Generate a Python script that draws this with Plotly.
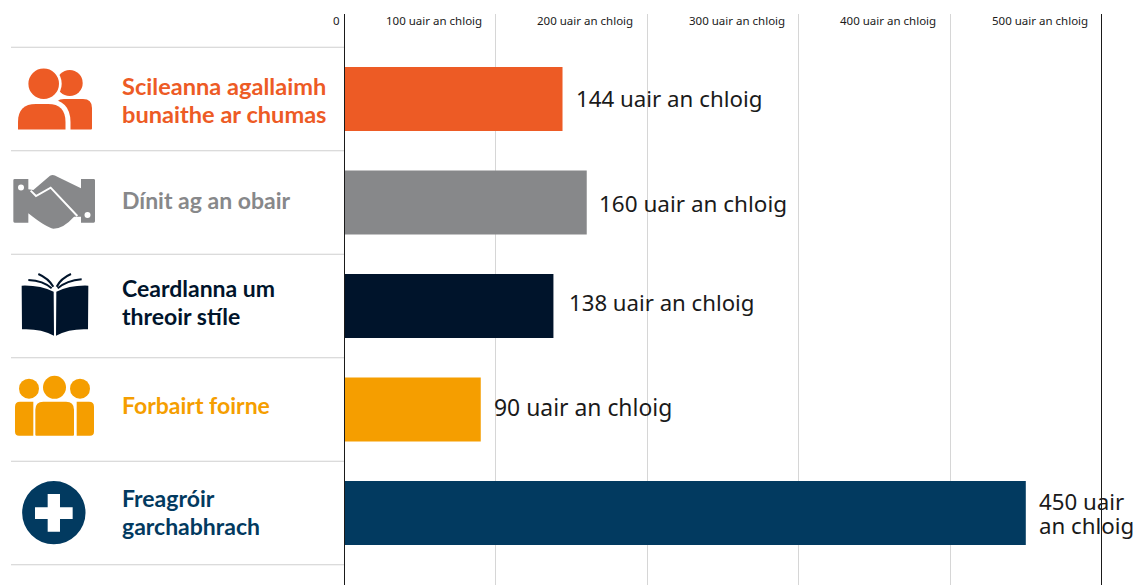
import plotly.graph_objects as go

# ---- data ----
categories = ["Scileanna agallaimh\nbunaithe ar chumas", "Dínit ag an obair",
              "Ceardlanna um\nthreoir stíle", "Forbairt foirne", "Freagróir\ngarchabhrach"]
hours = [144, 160, 138, 90, 450]
value_labels = ["144 uair an chloig", "160 uair an chloig", "138 uair an chloig",
                "90 uair an chloig", "450 uair\nan chloig"]
bar_colors = ["#ED5B25", "#87888A", "#00142B", "#F59E00", "#023A60"]
tick_values = [0, 100, 200, 300, 400, 500]
tick_labels = ["0", "100 uair an chloig", "200 uair an chloig", "300 uair an chloig",
               "400 uair an chloig", "500 uair an chloig"]

# ---- layout constants ----
W, H = 1138, 585
TOP = 14
X0, PX100 = 344.5, 151.4
Y0, ROW = 99, 103.5
INK = "#1a1a1a"
CAT_FONT = "Lato"
VAL_FONT = "Noto Sans"
cat_nudge = [3, -1, -2, -3, 1]
cat_size = [23.6, 23, 23, 23, 23]
val_yshift = [1, -1, 4, 2, 0]
val_xshift = [11, 10.5, 14, 11, 11]
val_size = [22.3, 22.5, 22.2, 22.9, 22.3]


def fx(p):
    return p / W


def fy(p):
    return 1 - (p - TOP) / (H - TOP)


def P(points, close=True):
    """Path from absolute pixel points -> paper fractions; repeated L points get their own command."""
    out = []
    cmd, used = None, 0
    for item in points:
        if isinstance(item, str):
            out.append(item)
            cmd, used = item, 0
        else:
            if cmd == "L" and used >= 1:
                out.append("L")
            out.append(f"{fx(item[0]):.5f},{fy(item[1]):.5f}")
            used += 1
    return " ".join(out) + (" Z" if close else "")


shapes = []


def fill_path(points, color, line=None, lw=0, close=True):
    shapes.append(dict(type="path", xref="paper", yref="paper", path=P(points, close),
                       fillcolor=color if close else "rgba(0,0,0,0)",
                       line=dict(color=line or color, width=lw), layer="above"))


def circle(cx, cy, r, color):
    shapes.append(dict(type="circle", xref="paper", yref="paper",
                       x0=fx(cx - r), x1=fx(cx + r), y0=fy(cy + r), y1=fy(cy - r),
                       fillcolor=color, line=dict(width=0), layer="above"))


def round_rect(x0, y0, x1, y1, rt, rb, color):
    fill_path(["M", (x0 + rt, y0), "L", (x1 - rt, y0), "Q", (x1, y0), (x1, y0 + rt),
               "L", (x1, y1 - rb), "Q", (x1, y1), (x1 - rb, y1), "L", (x0 + rb, y1),
               "Q", (x0, y1), (x0, y1 - rb), "L", (x0, y0 + rt), "Q", (x0, y0), (x0 + rt, y0)], color)


# icon 1: people
c = bar_colors[0]
circle(69.7, 83, 13, c)
round_rect(55, 99, 92, 129.5, 9, 1, c)
circle(43.7, 83.7, 18, "white")
fill_path(["M", (18, 129.5), "L", (18, 122), "Q", (18, 104), (36, 104), "L", (48, 104),
           "Q", (65.5, 104), (65.5, 122), "L", (65.5, 129.5)], "white", "white", 10)
circle(43.7, 83.7, 15.3, c)
fill_path(["M", (18, 129.5), "L", (18, 122), "Q", (18, 104), (36, 104), "L", (48, 104),
           "Q", (65.5, 104), (65.5, 122), "L", (65.5, 129.5)], c)


# icon 2: handshake
def z1(x, y):
    return (x / 3, y / 3)


c = bar_colors[1]
fill_path(["M", z1(44, 537), "L", z1(85, 537), z1(85, 568), z1(100, 570), z1(150, 527), "Q", z1(160, 522), z1(172, 530),
           "L", z1(243, 565), z1(243, 537), z1(281, 537), "Q", z1(285, 537), z1(285, 541), "L", z1(285, 664),
           "Q", z1(285, 668), z1(281, 668), "L", z1(243, 668), z1(243, 650), z1(222, 650),
           "Q", z1(190, 686), z1(160, 686), "Q", z1(140, 684), z1(85, 640), "L", z1(85, 668), z1(44, 668),
           "Q", z1(40, 668), z1(40, 664), "L", z1(40, 541), "Q", z1(40, 537), z1(44, 537)], c)
fill_path(["M", z1(92, 572), "L", z1(108, 588), z1(152, 563), z1(232, 648)], "white", "white", 2, close=False)
circle(21, 187.5, 3, "white")
circle(87.5, 215, 3, "white")


# icon 3: book
def z2(x, y):
    return (x / 3, 260 + y / 3)


c = bar_colors[2]
fill_path(["M", z2(65, 77), "Q", z2(120, 75), z2(161, 95), "L", z2(162, 227), "Q", z2(120, 205), z2(66, 208)], c)
fill_path(["M", z2(169, 95), "Q", z2(210, 75), z2(265, 77), "L", z2(264, 208), "Q", z2(210, 205), z2(168, 227)], c)
for seg in ([(115, 42), (145, 55), (160, 80)], [(85, 60), (130, 62), (155, 85)],
            [(213, 42), (183, 55), (170, 80)], [(245, 58), (200, 62), (173, 85)]):
    fill_path(["M", z2(*seg[0]), "Q", z2(*seg[1]), z2(*seg[2])], c, c, 2, close=False)

# icon 4: team
c = bar_colors[3]
circle(*z2(87, 386), 10, c)
circle(*z2(163.5, 382), 11.5, c)
circle(*z2(240, 386), 10, c)
round_rect(*z2(106, 425), *z2(222, 527), 8, 1, c)
fill_path(["M", z2(100, 425), "L", z2(100, 527), z2(57, 527), "Q", z2(45, 527), z2(45, 515), "L", z2(45, 440),
           "Q", z2(45, 425), z2(60, 425)], c)
fill_path(["M", z2(230, 425), "L", z2(230, 527), z2(270, 527), "Q", z2(282, 527), z2(282, 515), "L", z2(282, 440),
           "Q", z2(282, 425), z2(267, 425)], c)

# icon 5: first aid
c = bar_colors[4]
circle(*z2(161.5, 758), 31.7, c)
fill_path(["M", z2(143, 702), "L", z2(180, 702), z2(180, 742), z2(218, 742), z2(218, 777), z2(180, 777),
           z2(180, 815), z2(143, 815), z2(143, 777), z2(105, 777), z2(105, 742), z2(143, 742)], "white")

# dividers and the two dark vertical rules
for i in range(len(categories) + 1):
    shapes.append(dict(type="line", xref="x", yref="y", x0=(11 - X0) / PX100 * 100, x1=0,
                       y0=i - 0.5, y1=i - 0.5, line=dict(color="#cfcfcf", width=1.2), layer="below"))
for v in (tick_values[0], tick_values[-1]):
    shapes.append(dict(type="line", xref="x", yref="paper", x0=v, x1=v, y0=0, y1=1,
                       line=dict(color=INK, width=1), layer="above"))

annotations = []
for v, t in zip(tick_values, tick_labels):
    annotations.append(dict(x=v, xref="x", y=fy(20.5), yref="paper", text=t, showarrow=False,
                            xanchor="right", yanchor="middle", xshift=-3 if v == 0 else -12,
                            font=dict(family=VAL_FONT, size=11.5, color=INK)))

for i, (cat, col) in enumerate(zip(categories, bar_colors)):
    lines = cat.split("\n")
    for j, ln in enumerate(lines):
        off = (j - (len(lines) - 1) / 2) * 28.5
        annotations.append(dict(x=fx(120), xref="paper", y=i, yref="y", yshift=-off + 2 - cat_nudge[i], text=ln,
                                showarrow=False, xanchor="left", yanchor="middle",
                                font=dict(family=CAT_FONT, size=cat_size[i], color=col, weight="bold")))

for i, (v, lab) in enumerate(zip(hours, value_labels)):
    lines = lab.split("\n")
    for j, ln in enumerate(lines):
        off = (j - (len(lines) - 1) / 2) * 24
        annotations.append(dict(x=v, xref="x", y=i, yref="y", xshift=val_xshift[i], yshift=-off + val_yshift[i],
                                text=ln, showarrow=False, xanchor="left", yanchor="middle",
                                font=dict(family=VAL_FONT, size=val_size[i], color=INK)))

fig = go.Figure(go.Bar(x=hours, y=list(range(len(hours))), orientation="h", width=64 / ROW,
                       marker=dict(color=bar_colors, line=dict(width=0)), hoverinfo="skip"))
fig.update_layout(
    width=W, height=H, margin=dict(l=0, r=0, t=TOP, b=0), autosize=False,
    paper_bgcolor="white", plot_bgcolor="white", showlegend=False,
    xaxis=dict(range=[-X0 / PX100 * 100, (W - X0) / PX100 * 100], tickvals=tick_values, showticklabels=False,
               showgrid=True, gridcolor="#d6d6d6", gridwidth=1, zeroline=False, ticks=""),
    yaxis=dict(range=[(H - Y0) / ROW, (TOP - Y0) / ROW], showticklabels=False, showgrid=False, zeroline=False, ticks=""),
    shapes=shapes, annotations=annotations,
)
fig.write_html("out.html", config={"displayModeBar": False},
               post_script="document.body.style.margin='0';document.documentElement.style.overflow='hidden';")
